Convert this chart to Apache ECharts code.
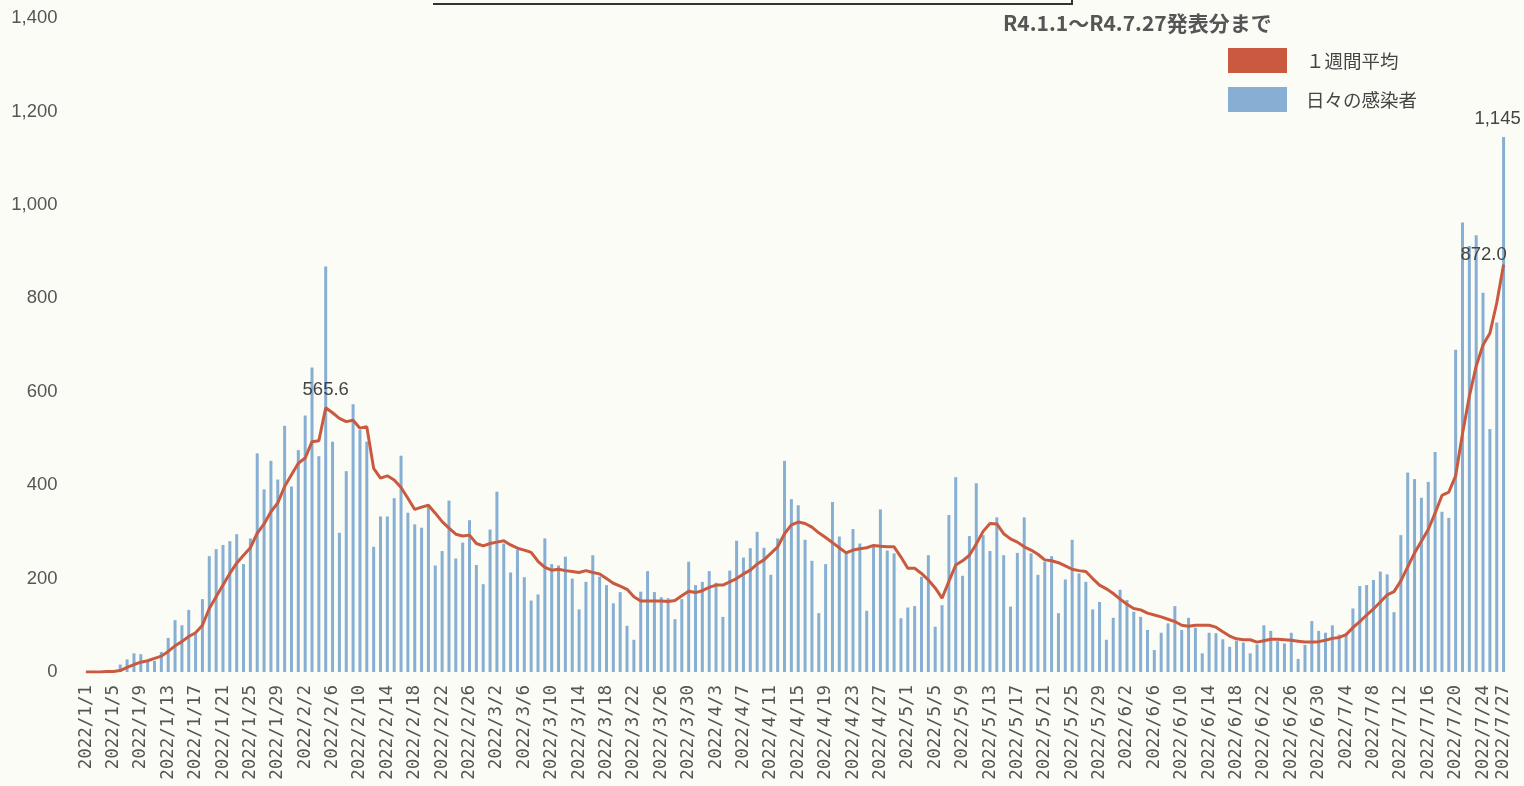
<!DOCTYPE html>
<html>
<head>
<meta charset="utf-8">
<script src="https://cdn.jsdelivr.net/npm/echarts@6/dist/echarts.min.js"></script>
<style>
  html, body { margin: 0; padding: 0; background: #fcfcf6; }
  #main { width: 1524px; height: 786px; }
</style>
</head>
<body>
<div id="main"></div>
<script>
// 日付カテゴリ 2022/1/1 ～ 2022/7/27
const days = [];
for (let d = new Date(2022, 0, 1); d <= new Date(2022, 6, 27); d.setDate(d.getDate() + 1)) {
  days.push(d.getFullYear() + '/' + (d.getMonth() + 1) + '/' + d.getDate());
}

// 日々の感染者
const daily = [
  0, 1, 0, 2, 3, 16, 27, 40, 38, 24, 24, 43, 73, 111, 100, 133, 83, 156, 248, 263,
  272, 280, 295, 231, 286, 468, 391, 452, 412, 527, 397, 475, 549, 652, 462, 868, 493, 298, 430, 573,
  518, 493, 268, 333, 333, 372, 463, 341, 316, 309, 357, 228, 259, 367, 243, 277, 325, 229, 188, 305,
  386, 275, 213, 261, 203, 153, 166, 286, 231, 228, 247, 200, 134, 193, 250, 204, 186, 147, 171, 99,
  69, 172, 216, 171, 160, 158, 113, 156, 236, 186, 193, 216, 191, 118, 217, 281, 245, 265, 300, 266,
  208, 286, 452, 370, 357, 283, 238, 126, 231, 364, 290, 253, 306, 275, 131, 268, 348, 260, 254, 115,
  138, 141, 204, 250, 97, 143, 336, 417, 206, 291, 404, 293, 259, 331, 250, 140, 255, 331, 254, 208,
  236, 248, 126, 198, 283, 211, 193, 134, 150, 69, 116, 176, 154, 129, 118, 90, 47, 84, 104, 141,
  90, 116, 95, 40, 84, 83, 70, 54, 67, 63, 40, 59, 100, 88, 66, 61, 84, 28, 58, 109,
  88, 84, 100, 80, 80, 136, 184, 186, 197, 215, 209, 128, 293, 427, 413, 373, 407, 471, 343, 330,
  690, 962, 912, 935, 812, 520, 748, 1145
];

// １週間平均
const weekAvg = [
  0, 0, 0, 1, 1, 3, 10, 16, 21, 24, 29, 34, 44, 56, 65, 76, 84, 100, 136, 161,
  186, 211, 233, 250, 266, 297, 317, 343, 362, 397, 422, 447, 458, 493, 495, 565.6, 555, 543, 536, 539,
  522, 525, 436, 415, 420, 411, 395, 372, 348, 353, 357, 340, 322, 308, 295, 291, 293, 275, 270, 275,
  278, 281, 272, 265, 261, 256, 237, 224, 218, 220, 217, 215, 213, 217, 213, 210, 200, 190, 184, 177,
  161, 152, 152, 152, 152, 151, 153, 163, 173, 170, 174, 181, 186, 186, 193, 200, 210, 218, 231, 240,
  254, 268, 296, 315, 321, 318, 310, 298, 288, 277, 266, 255, 261, 264, 266, 271, 269, 268, 268, 246,
  222, 222, 211, 197, 180, 158, 194, 229, 238, 250, 274, 301, 318, 317, 296, 285, 278, 268, 261, 252,
  240, 238, 234, 227, 220, 217, 215, 200, 186, 178, 168, 156, 145, 136, 133, 126, 122, 118, 113, 108,
  100, 98, 100, 100, 100, 96, 86, 77, 71, 69, 69, 64, 67, 70, 70, 69, 68, 66, 64, 64,
  65, 68, 72, 74, 80, 95, 108, 122, 135, 150, 165, 172, 195, 225, 255, 280, 305, 340, 378, 385,
  420, 510, 590, 655, 700, 725, 790, 872
];

const yTicks = [0, 200, 400, 600, 800, 1000, 1200, 1400];

const fontJP = '"Noto Sans CJK JP", "Noto Sans", sans-serif';
const fontNum = '"Liberation Sans", Arial, sans-serif';
const fontMono = '"DejaVu Sans Mono", "Liberation Mono", monospace';
const last = days.length - 1;
const peakIdx = weekAvg.indexOf(Math.max(...weekAvg.slice(0, 100)));

const barData = daily.map((v, i) => i === last ? {
  value: v,
  label: { show: true, position: 'top', distance: 9, offset: [-6, 0], formatter: '1,145' }
} : v);

const lineData = weekAvg.map((v, i) => {
  if (i === peakIdx) {
    return { value: v, label: { show: true, position: 'top', distance: 8, formatter: '565.6' } };
  }
  if (i === last) {
    return { value: v, label: { show: true, position: 'top', distance: 0, offset: [-20, 0], formatter: '872.0' } };
  }
  return v;
});

const chart = echarts.init(document.getElementById('main'));
chart.setOption({
  backgroundColor: '#fcfcf6',
  animation: false,
  textStyle: { fontFamily: fontJP },
  title: {
    text: 'R4.1.1～R4.7.27発表分まで',
    left: 998, top: 8,
    textStyle: { fontSize: 21, fontWeight: 'bold', color: '#555', fontFamily: fontJP }
  },
  legend: {
    data: ['１週間平均', '日々の感染者'],
    orient: 'vertical',
    left: 1223, top: 43,
    itemWidth: 59, itemHeight: 25, itemGap: 14,
    icon: 'rect',
    textStyle: { fontSize: 18.5, color: '#444', padding: [0, 0, 0, 14], fontFamily: fontJP }
  },
  grid: { left: 82.6, right: 17, top: 18, bottom: 114 },
  xAxis: {
    type: 'category',
    data: days,
    boundaryGap: true,
    axisLine: { show: false },
    axisTick: { show: false },
    axisLabel: {
      interval: (i) => i % 4 === 0 || i === last,
      rotate: 90,
      margin: 13,
      fontSize: 17.5,
      color: '#555',
      fontFamily: fontMono
    }
  },
  yAxis: {
    type: 'value',
    min: yTicks[0],
    max: yTicks[yTicks.length - 1],
    interval: 200,
    splitLine: { show: false },
    axisLine: { show: false },
    axisTick: { show: false },
    axisLabel: {
      margin: 25,
      fontSize: 18.5,
      color: '#555',
      fontFamily: fontNum,
      formatter: (v) => v.toLocaleString('en-US')
    }
  },
  series: [
    {
      name: '日々の感染者',
      type: 'bar',
      data: barData,
      barWidth: 3,
      itemStyle: { color: '#86afd3' },
      label: { fontSize: 18.5, color: '#444', fontFamily: fontNum }
    },
    {
      name: '１週間平均',
      type: 'line',
      data: lineData,
      symbol: 'circle',
      symbolSize: 1,
      lineStyle: { color: '#c95a40', width: 3 },
      itemStyle: { color: '#c95a40' },
      label: { fontSize: 18.5, color: '#444', fontFamily: fontNum }
    }
  ],
  graphic: [
    {
      type: 'polyline',
      shape: { points: [[433, 4], [1072, 4], [1072, 0]] },
      style: { stroke: '#333', lineWidth: 2, fill: null }
    }
  ]
});
</script>
</body>
</html>
